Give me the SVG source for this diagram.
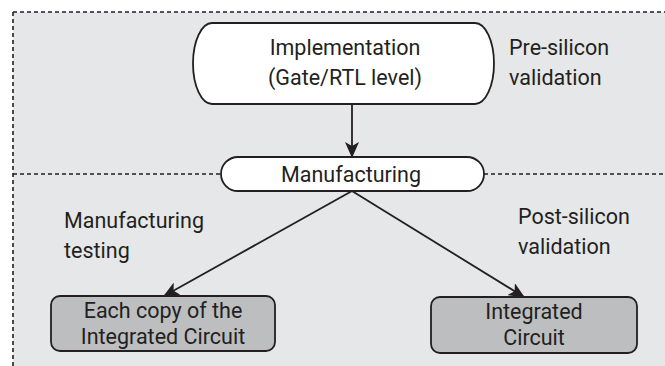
<svg xmlns="http://www.w3.org/2000/svg" width="665" height="366" viewBox="0 0 665 366">
  <style>
    .lbl { font-family: Roboto, "Open Sans", "Liberation Sans", sans-serif; font-size: 21.5px; fill: #231f20; }
    .mid { text-anchor: middle; }
    .box { stroke: #231f20; stroke-width: 1.8; }
    .white { fill: #ffffff; }
    .grey { fill: #bcbec0; }
    .dash { stroke: #231f20; stroke-width: 1.6; stroke-dasharray: 4 3; fill: none; }
    .conn { stroke: #231f20; stroke-width: 1.8; fill: none; }
  </style>
  <defs>
    <marker id="arrow" viewBox="0 0 16 14" refX="15" refY="7" markerWidth="16" markerHeight="14" markerUnits="userSpaceOnUse" orient="auto">
      <path d="M0,0 L16,7 L0,14 L4,7 z" fill="#231f20"/>
    </marker>
  </defs>

  <!-- panel background and dashed frame -->
  <rect x="13" y="12" width="652" height="354" fill="#e6e7e8"/>
  <g id="frame">
    <line class="dash" x1="13" y1="12" x2="665" y2="12"/>
    <line class="dash" x1="13" y1="12" x2="13" y2="366"/>
    <line class="dash" x1="13" y1="174" x2="220" y2="174"/>
    <line class="dash" x1="484" y1="174" x2="665" y2="174"/>
  </g>

  <g id="connectors">
    <line class="conn" x1="352" y1="104" x2="352" y2="157" marker-end="url(#arrow)"/>
    <line class="conn" x1="352" y1="191" x2="164" y2="296" marker-end="url(#arrow)"/>
    <line class="conn" x1="352" y1="191" x2="524" y2="297" marker-end="url(#arrow)"/>
  </g>

  <g id="implementation">
    <path class="box white" d="M212,23 H475 A19,40.5 0 0 1 475,104 H212 A19,40.5 0 0 1 212,23 Z"/>
    <text class="lbl mid" x="345" y="55">Implementation</text>
    <text class="lbl mid" x="345" y="85">(Gate/RTL level)</text>
  </g>

  <g id="pre-silicon">
    <text class="lbl" x="509" y="55">Pre-silicon</text>
    <text class="lbl" x="509" y="85">validation</text>
  </g>

  <g id="manufacturing">
    <rect class="box white" x="221" y="157" width="263" height="34" rx="17" ry="17"/>
    <text class="lbl mid" x="351" y="182">Manufacturing</text>
  </g>

  <g id="manufacturing-testing">
    <text class="lbl" x="64" y="228">Manufacturing</text>
    <text class="lbl" x="64" y="258">testing</text>
  </g>

  <g id="post-silicon">
    <text class="lbl" x="518" y="224">Post-silicon</text>
    <text class="lbl" x="518" y="254">validation</text>
  </g>

  <g id="each-copy">
    <rect class="box grey" x="51" y="296" width="224" height="55" rx="9" ry="9"/>
    <text class="lbl mid" x="163" y="318">Each copy  of the</text>
    <text class="lbl mid" x="163" y="344">Integrated Circuit</text>
  </g>

  <g id="integrated-circuit">
    <rect class="box grey" x="431" y="297" width="206" height="56" rx="9" ry="9"/>
    <text class="lbl mid" x="534" y="319">Integrated</text>
    <text class="lbl mid" x="534" y="345">Circuit</text>
  </g>
</svg>
